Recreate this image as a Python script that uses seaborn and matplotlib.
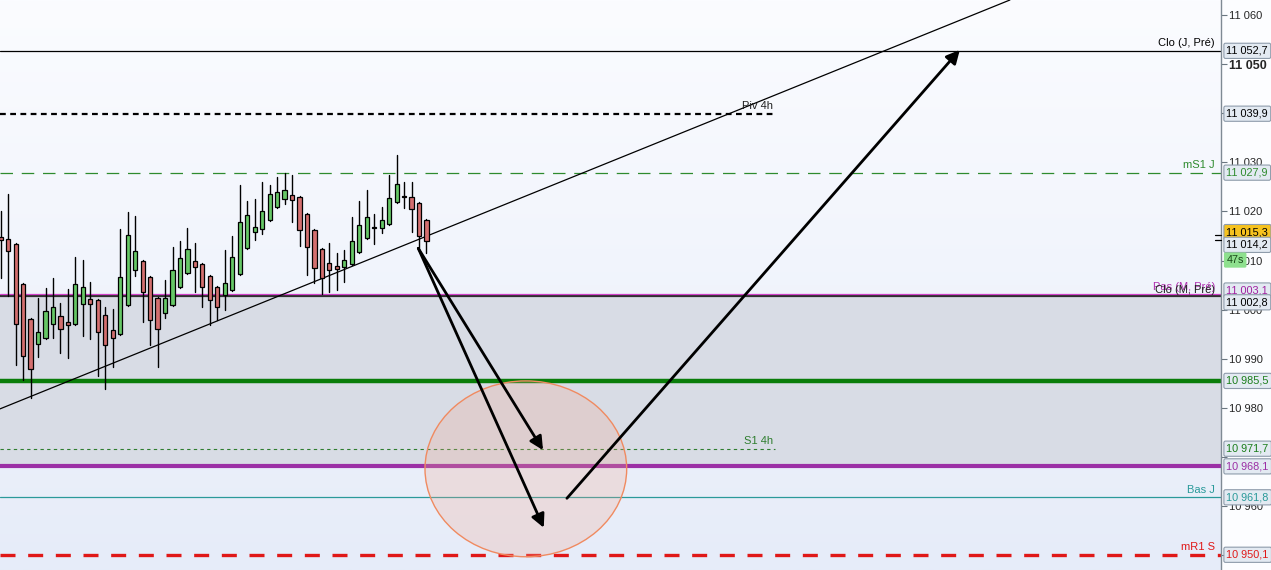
import numpy as np
import pandas as pd
import seaborn as sns
import matplotlib.pyplot as plt
from matplotlib.patches import Ellipse

# Candles (oldest first)
opens = [11014.7, 11014.3, 11013.3, 11005.2, 10998.1, 10993.0, 10994.2, 10997.0, 10998.7, 10997.4,
         10997.0, 11001.1, 11002.2, 11001.9, 10998.9, 10995.9, 10995.0, 11000.9, 11008.1, 11009.9,
         11006.7, 11002.3, 10999.3, 11000.9, 11004.6, 11007.4, 11009.9, 11009.3, 11006.9, 11004.6,
         11003.0, 11004.0, 11007.2, 11012.5, 11015.8, 11016.4, 11018.2, 11020.9, 11022.5, 11023.3,
         11022.9, 11019.4, 11016.2, 11012.3, 11009.5, 11008.9, 11008.6, 11009.3, 11011.7, 11014.5,
         11016.7, 11016.6, 11017.5, 11021.9, 11023.0, 11022.9, 11021.7, 11018.3]
highs = [11020.0, 11023.6, 11013.5, 11005.4, 10998.3, 11002.3, 11004.5, 11006.4, 11001.3, 11004.2,
         11010.7, 11010.1, 11005.6, 11002.1, 11000.5, 11000.1, 11016.4, 11019.8, 11019.1, 11010.1,
         11006.9, 11002.5, 11006.1, 11012.7, 11014.0, 11016.6, 11013.6, 11009.5, 11007.1, 11004.8,
         11012.2, 11015.0, 11025.4, 11022.1, 11022.5, 11025.9, 11025.3, 11027.0, 11027.8, 11027.4,
         11023.1, 11019.6, 11016.4, 11012.5, 11013.5, 11011.5, 11012.2, 11018.8, 11022.1, 11024.4,
         11019.5, 11020.9, 11027.4, 11031.5, 11025.9, 11025.9, 11021.9, 11018.5]
lows = [11006.5, 11002.7, 10988.8, 10985.7, 10982.0, 10990.4, 10994.0, 10994.3, 10991.1, 10990.1,
        10996.8, 10994.7, 10994.0, 10986.4, 10983.8, 10988.3, 10994.8, 11000.7, 11006.9, 10997.4,
        10992.9, 10988.3, 10998.4, 11000.7, 11004.4, 11007.2, 11003.7, 11000.6, 10996.9, 10997.9,
        11000.0, 11003.8, 11007.0, 11012.3, 11014.1, 11015.4, 11018.0, 11020.7, 11021.5, 11017.8,
        11013.0, 11007.0, 11005.4, 11003.1, 11003.7, 11004.0, 11005.7, 11009.1, 11011.5, 11014.3,
        11013.3, 11015.6, 11017.3, 11021.7, 11020.7, 11015.9, 11012.5, 11011.5]
closes = [11014.1, 11012.0, 10997.0, 10990.6, 10987.9, 10995.4, 10999.7, 11000.6, 10996.0, 10996.8,
          11005.2, 11004.6, 11001.1, 10995.5, 10992.8, 10994.2, 11006.7, 11015.2, 11012.0, 11003.5,
          10997.9, 10996.0, 11002.3, 11008.1, 11010.5, 11012.3, 11008.6, 11004.7, 11002.0, 11000.6,
          11005.4, 11010.7, 11017.8, 11019.2, 11016.9, 11020.0, 11023.5, 11023.9, 11024.3, 11022.3,
          11016.2, 11012.8, 11008.4, 11006.5, 11008.1, 11008.2, 11010.1, 11014.0, 11017.3, 11018.8,
          11016.7, 11018.3, 11022.7, 11025.5, 11023.0, 11020.4, 11014.9, 11014.0]

# Horizontal levels
clo_j = 11052.7
piv_4h = 11039.9
ms1_j = 11027.9
pas_m = 11003.1
clo_m = 11002.8
green_lvl = 10985.5
s1_4h = 10971.7
purple_lvl = 10968.1
bas_j = 10961.8
mr1_s = 10950.1
last_price = 11015.3
prev_price = 11014.2
hidden_ticks = [11040, 10970, 10950]  # covered by value boxes

# Drawing tools on the chart (index, price)
trend_pts = [(-0.1, 10979.8), (135.1, 11063.05)]
arrows = [((55.9, 11012.5), (72.6, 10971.4)),
          ((55.9, 11012.5), (72.7, 10955.6)),
          ((75.8, 10961.6), (128.4, 11052.9))]
zone_center = (70.3, 10967.6)
zone_size = (27.0, 35.8)
short_end = 103.7

W, H = 1271, 570
sns.set_style("white")
plt.rcParams['font.family'] = ['Liberation Sans', 'DejaVu Sans']

fig = plt.figure(figsize=(W / 100, H / 100), dpi=100)
fig.patch.set_facecolor('#fcfdff')
ax = fig.add_axes([0, 0, 1221 / W, 1])
xlim = (-0.094, 163.36)
ylim = (10947.0, 11063.05)
ax.set_xlim(*xlim)
ax.set_ylim(*ylim)

# background gradient + grey band
grad = np.linspace(0, 1, 256).reshape(-1, 1)
cmap = plt.matplotlib.colors.LinearSegmentedColormap.from_list('bg', ['#e6ecf9', '#fbfcff'])
ax.imshow(grad, cmap=cmap, aspect='auto', extent=[*xlim, *ylim], origin='lower', zorder=0)
ax.axhspan(purple_lvl, clo_m, color='#d8dce5', zorder=0.5, lw=0)

# candles
idx = np.arange(len(opens))
wick_df = pd.DataFrame({'idx': np.concatenate([idx, idx]),
                        'price': np.concatenate([lows, highs])})
sns.lineplot(data=wick_df, x='idx', y='price', units='idx', estimator=None,
             color='black', lw=1.0, ax=ax, zorder=2, legend=False)
o = np.array(opens); c = np.array(closes)
body_h = np.maximum(np.abs(c - o), 0.12)
colors = np.where(c > o, '#66c866', np.where(c < o, '#d46f6f', '#000000'))
ax.bar(idx, body_h, bottom=np.minimum(o, c), width=0.56, color=colors,
       edgecolor='black', linewidth=0.9, zorder=3)

# levels
ax.axhline(clo_j, color='black', lw=0.9, zorder=1.5)
ax.hlines(piv_4h, xlim[0], short_end, color='black', lw=1.6, linestyles=(0, (2.6, 2.0)), zorder=1.5)
ax.axhline(ms1_j, color='#2e8b2e', lw=0.9, linestyle=(0, (10, 7)), zorder=1.5)
ax.axhline(clo_m, color='#303030', lw=1.6, zorder=1.6)
ax.axhline(pas_m, color='#d040c8', lw=0.9, zorder=1.7)
ax.axhline(green_lvl, color='#0a7d0a', lw=3.2, zorder=1.5)
ax.hlines(s1_4h, xlim[0], short_end, color='#2e7d2e', lw=0.8, linestyles=(0, (3, 3)), zorder=1.5)
ax.axhline(purple_lvl, color='#9b2fa5', lw=3.0, zorder=1.5)
ax.axhline(bas_j, color='#2a9a9a', lw=0.9, zorder=1.5)
ax.axhline(mr1_s, color='#e01818', lw=2.4, linestyle=(0, (4.5, 3.8)), zorder=1.5)

# trendline, zone, arrows
ax.axline(trend_pts[0], trend_pts[1], color='black', lw=0.9, zorder=2.5)
ax.add_patch(Ellipse(zone_center, zone_size[0], zone_size[1], fc='#f0a890', alpha=0.25,
                     ec='none', zorder=3.5))
ax.add_patch(Ellipse(zone_center, zone_size[0], zone_size[1], fc='none', ec='#f08a60',
                     lw=1.0, zorder=3.6))
for start, end in arrows:
    ax.annotate('', xy=end, xytext=start,
                arrowprops=dict(arrowstyle='-|>', color='black', lw=2.0,
                                mutation_scale=20, shrinkA=0, shrinkB=0), zorder=4)

# line labels
ytr = ax.get_yaxis_transform()
lbl = dict(transform=ytr, fontsize=8, ha='right', va='bottom', zorder=5)
ax.text(0.995, clo_j + 0.5, 'Clo (J, Pré)', color='black', **lbl)
ax.text(short_end / xlim[1] * 0.9975, piv_4h + 0.5, 'Piv 4h', color='#202020', **lbl)
ax.text(0.995, ms1_j + 0.5, 'mS1 J', color='#2e8b2e', **lbl)
ax.text(0.995, pas_m + 0.5, 'Pas (M, Pré)', color='#b030b0', **lbl)
ax.text(0.995, clo_m + 0.1, 'Clo (M, Pré)', color='#202020', **lbl)
ax.text(short_end / xlim[1] * 0.9975, s1_4h + 0.5, 'S1 4h', color='#2e7d2e', **lbl)
ax.text(0.995, bas_j + 0.5, 'Bas J', color='#2a9a9a', **lbl)
ax.text(0.995, mr1_s + 0.5, 'mR1 S', color='#e01818', **lbl)

# right axis
for s in ['left', 'top', 'bottom']:
    ax.spines[s].set_visible(False)
ax.spines['right'].set_color('#7f8a94')
ax.spines['right'].set_linewidth(1.0)
ax.set_xticks([])
ax.set_xlabel('')
ax.set_ylabel('')
ax.yaxis.tick_right()
yt = np.arange(10950, 11061, 10)
ax.set_yticks(yt)
ax.set_yticklabels(['' if v in hidden_ticks else f'{v:,}'.replace(',', ' ') for v in yt],
                   fontsize=8)
ax.tick_params(axis='y', length=4, width=0.8, color='#6a7680', pad=2, right=True)
for t in ax.get_yticklabels():
    if t.get_text() == '11 050':
        t.set_fontweight('bold')
        t.set_fontsize(9)

# small marks left of the axis for price lines
for p in [last_price, prev_price]:
    ax.plot([0.995, 1.0], [p, p], color='black', lw=0.9, transform=ytr, clip_on=False, zorder=6)

# value boxes
def fmt(v):
    s = f'{v:,.1f}'.replace(',', ' ').replace('.', ',')
    return s

boxes = [(clo_j, 'black', '#e3eaf2', 0.0), (piv_4h, 'black', '#e3eaf2', 0.0),
         (ms1_j, '#2e8b2e', '#e3eaf2', 0.0), (last_price, 'black', '#f6c21e', 0.5),
         (prev_price, 'black', '#e3eaf2', -1.0), (pas_m, '#a020a0', '#e3eaf2', 0.8),
         (clo_m, 'black', '#e3eaf2', -1.3), (green_lvl, '#1a7d1a', '#e3eaf2', 0.0),
         (s1_4h, '#1a7d1a', '#e3eaf2', 0.0), (purple_lvl, '#9b2fa5', '#e3eaf2', 0.0),
         (bas_j, '#2a9a9a', '#e3eaf2', 0.0), (mr1_s, '#e01818', '#e3eaf2', 0.0)]
box_style = dict(boxstyle='round,pad=0.24,rounding_size=0.15', ec='#8e9cab', lw=0.8)
for val, tc, fc, dy in boxes:
    ax.text(1.0045, val + dy, fmt(val), transform=ytr, fontsize=7.8, color=tc,
            ha='left', va='center', zorder=10, clip_on=False,
            bbox=dict(fc=fc, **box_style))
ax.text(1.0045, 11010.1, '47s', transform=ytr, fontsize=7.8, color='#1a4a1a',
        ha='left', va='center', zorder=10, clip_on=False,
        bbox=dict(boxstyle='round,pad=0.24,rounding_size=0.15', fc='#8ee08e', ec='none'))

fig.savefig('out.png', dpi=100)
